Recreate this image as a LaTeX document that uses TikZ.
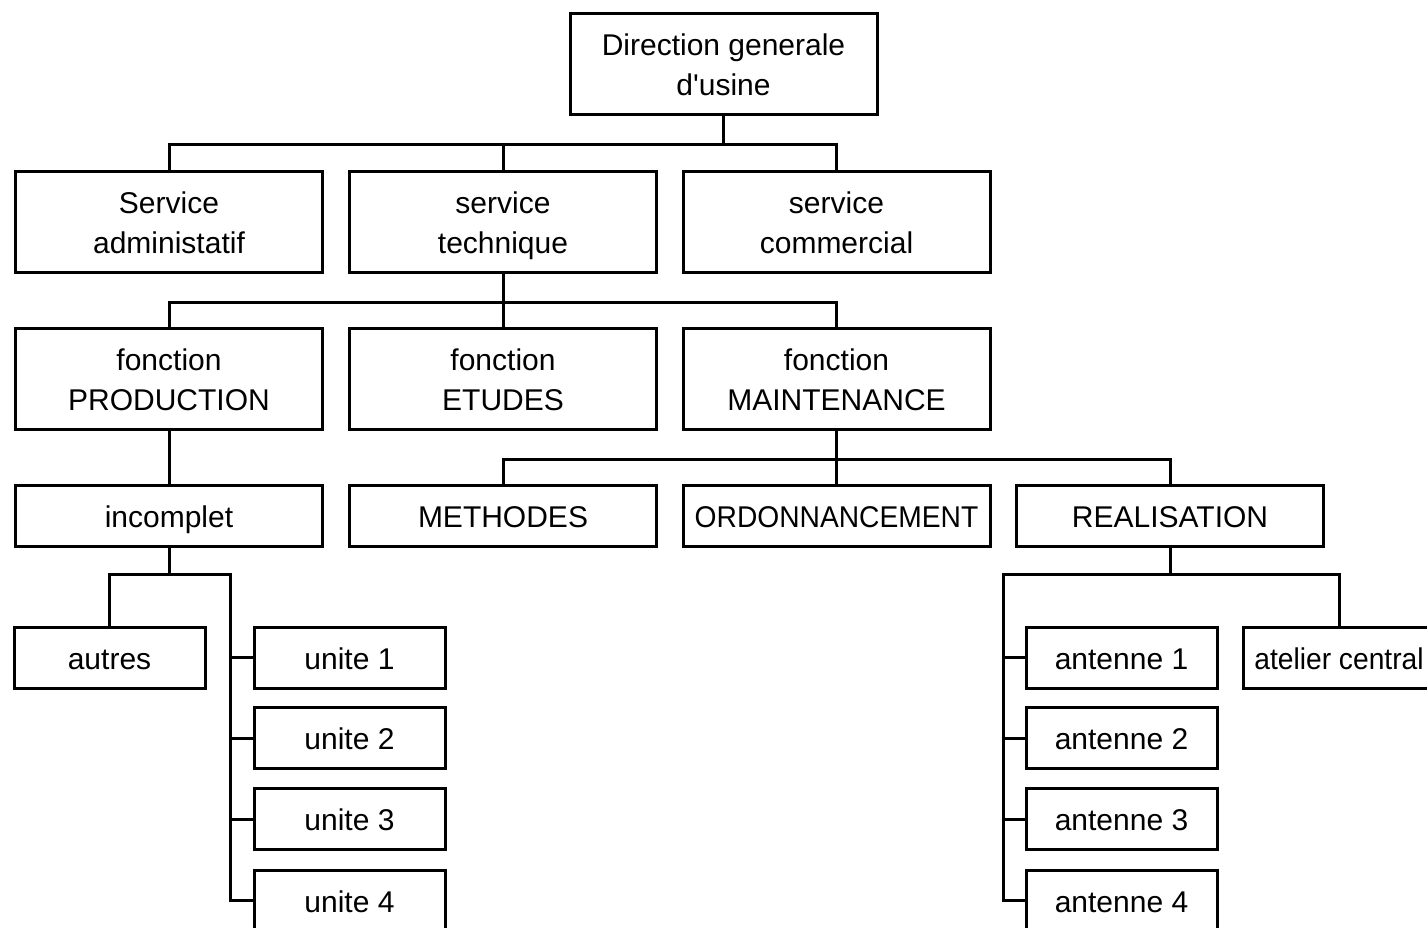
\documentclass[tikz,border=0pt]{standalone}
\usepackage{fontspec}
\usepackage{graphicx}
\setmainfont{Liberation Sans}[Ligatures=TeXOff]
% strut that keeps every line's baseline in the same place
\newcommand\ls{\rule[-8.5pt]{0pt}{40pt}}
\begin{document}
\begin{tikzpicture}[x=1pt,y=-1pt,
  line width=3pt, line join=miter,
  box/.style={draw, line width=3pt, align=center, inner sep=0pt,
    font=\fontsize{30}{40}\selectfont},
  bigbox/.style={box, minimum width=307, minimum height=101},
  flatbox/.style={box, minimum width=307, minimum height=61},
  smallbox/.style={box, minimum width=191, minimum height=61},
  link/.style={draw, line width=3pt}]
\useasboundingbox (0,0) rectangle (1427,927);

% top level
\node[bigbox] (dir) at (723.5,64) {\ls Direction generale\\\ls d'usine};

% services
\node[bigbox] (sadm) at (169,221.5) {\ls Service\\\ls administatif};
\node[bigbox] (stec) at (503,221.5) {\ls service\\\ls technique};
\node[bigbox] (scom) at (836.5,221.5) {\ls service\\\ls commercial};

% functions
\node[bigbox] (fprod) at (169,378.5) {\ls fonction\\\ls PRODUCTION};
\node[bigbox] (fetu) at (503,378.5) {\ls fonction\\\ls ETUDES};
\node[bigbox] (fmai) at (836.5,378.5) {\ls fonction\\\ls MAINTENANCE};

% fourth row
\node[flatbox] (inc) at (169,515.5) {\ls incomplet};
\node[flatbox] (meth) at (503,515.5) {\ls METHODES};
\node[flatbox] (ordo) at (836.5,515.5) {\ls\scalebox{0.94}[1]{ORDONNANCEMENT}};
\node[flatbox] (real) at (1170,515.5) {\ls REALISATION};

% production units
\node[smallbox] (autres) at (109.5,657.5) {\ls autres};
\node[smallbox] (u1) at (349.5,657.5) {\ls unite 1};
\node[smallbox] (u2) at (349.5,738) {\ls unite 2};
\node[smallbox] (u3) at (349.5,819) {\ls unite 3};
\node[smallbox] (u4) at (349.5,900.5) {\ls unite 4};

% maintenance sites
\node[smallbox] (a1) at (1121.5,657.5) {\ls antenne 1};
\node[smallbox] (a2) at (1121.5,738) {\ls antenne 2};
\node[smallbox] (a3) at (1121.5,819) {\ls antenne 3};
\node[smallbox] (a4) at (1121.5,900.5) {\ls antenne 4};
\node[smallbox] (atel) at (1339,657.5) {\ls\scalebox{0.94}[1]{atelier central}};

% direction -> services
\draw[link] (dir.south) -- ++(0,28) coordinate (b1);
\draw[link] (sadm.north) |- (b1) -| (scom.north);
\draw[link] (b1) -| (stec.north);

% service technique -> functions
\draw[link] (stec.south) -- ++(0,29) coordinate (b2);
\draw[link] (fprod.north) |- (b2) -| (fmai.north);
\draw[link] (b2) -- (fetu.north);

% production -> incomplet
\draw[link] (fprod.south) -- (inc.north);

% maintenance -> sections
\draw[link] (fmai.south) -- ++(0,29) coordinate (b3);
\draw[link] (meth.north) |- (b3) -| (real.north);
\draw[link] (b3) -- (ordo.north);

% incomplet -> units
\draw[link] (inc.south) -- ++(0,27) coordinate (b4);
\path (b4) ++(61,0) coordinate (t4);
\draw[link] (autres.north) |- (b4) -- (t4) |- (u4.west);
\draw[link] (t4 |- u1.west) -- (u1.west);
\draw[link] (t4 |- u2.west) -- (u2.west);
\draw[link] (t4 |- u3.west) -- (u3.west);

% realisation -> sites
\draw[link] (real.south) -- ++(0,27) coordinate (b5);
\path (b5) ++(-167,0) coordinate (t5);
\draw[link] (atel.north) |- (b5) -- (t5) |- (a4.west);
\draw[link] (t5 |- a1.west) -- (a1.west);
\draw[link] (t5 |- a2.west) -- (a2.west);
\draw[link] (t5 |- a3.west) -- (a3.west);
\end{tikzpicture}
\end{document}
